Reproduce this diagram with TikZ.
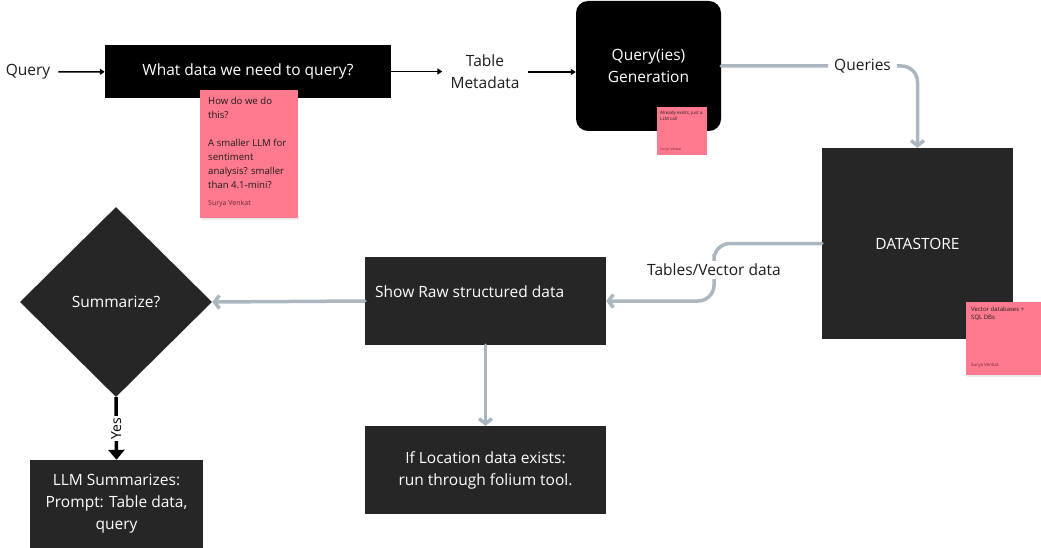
\documentclass[tikz,border=0pt]{standalone}
\usepackage{fontspec}
\setmainfont{Open Sans}
\usetikzlibrary{arrows.meta,shapes.geometric}
\definecolor{boxdark}{RGB}{38,38,38}
\definecolor{notepink}{RGB}{255,122,143}
\definecolor{linkgray}{RGB}{170,183,192}
\definecolor{inkgray}{RGB}{28,28,28}
\definecolor{notesign}{RGB}{110,40,55}

\begin{document}
\begin{tikzpicture}[x=1pt,y=-1pt]

\def\bigsize{\fontsize{15.5}{22}\selectfont}
\def\notesize{\fontsize{9.6}{14}\selectfont}

\tikzset{box/.style = {fill=boxdark, text=white, inner sep=0pt, font=\bigsize, align=center},
         tag/.style = {text=inkgray, font=\bigsize, align=center, inner sep=0pt},
         note/.style = {fill=notepink, inner sep=0pt, anchor=north west, minimum width=#1, minimum height=#1},
         notetxt/.style = {anchor=north west, align=left, inner sep=0pt, text=inkgray},
         flow/.style = {line width=1.5pt, draw=black, -{Triangle[length=5pt,width=6pt]}},
         link/.style = {line width=3.5pt, draw=linkgray, line cap=round, rounded corners=16pt,
                        -{Straight Barb[length=5pt,width=13pt]}},
         yesline/.style = {line width=3.5pt, draw=black, -{Triangle[length=10pt,width=16pt]}}}

\useasboundingbox (0,0) rectangle (1041,548);

% top row
\node[tag] (query) at (28,72) {Query};
\node[box, fill=black, minimum width=286, minimum height=53] (need) at (248,71.5) {What data we need to query?};
\node[tag] (meta) at (485,72) {Table\\Metadata};
\node[box, fill=black, rounded corners=12pt, minimum width=145, minimum height=130] (gen) at (648.5,66) {Query(ies)\\Generation};

% datastore and outputs
\node[box, minimum width=191, minimum height=191] (store) at (917.5,243.5) {DATASTORE};
\node[box, minimum width=241, minimum height=88] (raw) at (485.5,301) {};
\node[text=white, font=\bigsize, anchor=west, inner sep=0pt] (rawtxt) at (375,292) {Show Raw structured data};
\node[box, minimum width=241, minimum height=88] (folium) at (485.5,470) {If Location data exists:\\run through folium tool.};
\node[box, diamond, minimum width=192, minimum height=190] (ask) at (116,302) {Summarize?};
\node[box, minimum width=173, minimum height=88] (llm) at (116.5,504) {LLM Summarizes:\\Prompt: Table data,\\query};

% sticky notes
\fill[black!8] (201,217) rectangle (299,220);
\node[note=98, minimum height=128] (howNote) at (200,90) {};
\node[notetxt, font=\notesize] (howTxt) at (208,97) {How do we do\\this?\\[14pt]A smaller LLM for\\sentiment\\analysis? smaller\\than 4.1-mini?};
\node[notetxt, font=\fontsize{7}{8}\selectfont, text=notesign] (howSign) at (208,200) {Surya Venkat};

\node[note=50, minimum height=48] (callNote) at (657,107) {};
\node[notetxt, font=\fontsize{4.5}{5.5}\selectfont] (callTxt) at (660,111) {Already exists, just a\\LLM call};
\node[notetxt, font=\fontsize{3.5}{4}\selectfont, text=notesign] (callSign) at (660,148) {Surya Venkat};

\fill[black!8] (967,374) rectangle (1041,377);
\node[note=75, minimum height=73] (dbNote) at (966,302) {};
\node[notetxt, font=\fontsize{6}{8}\selectfont] (dbTxt) at (971,307) {Vector databases +\\SQL DBs};
\node[notetxt, font=\fontsize{4.5}{5}\selectfont, text=notesign] (dbSign) at (971,363) {Surya Venkat};

% connectors
\draw[flow, shorten <=8pt] (query) -- (need);
\draw[flow, shorten >=8pt] (need) -- (need -| meta.west);
\draw[flow, shorten <=8pt] (meta) -- (meta -| gen.west);
\draw[link] (gen.east) -| (store.north) node[pos=0.36, tag, fill=white, inner sep=6pt] {Queries};

\coordinate (bend) at (714,270);
\draw[link] (store.west) -| (bend) |- (raw.east);
\node[tag, fill=white, inner sep=3pt] (tvlabel) at (bend) {Tables/Vector data};

\draw[link] (raw.west) -- (ask.east);
\draw[link] (raw.south) -- (folium.north);
\draw[yesline] (ask.south) -- (llm.north) node[midway, rotate=90, fill=white, text=black, font=\fontsize{14}{16}\selectfont, inner sep=2pt] {Yes};

\end{tikzpicture}
\end{document}
